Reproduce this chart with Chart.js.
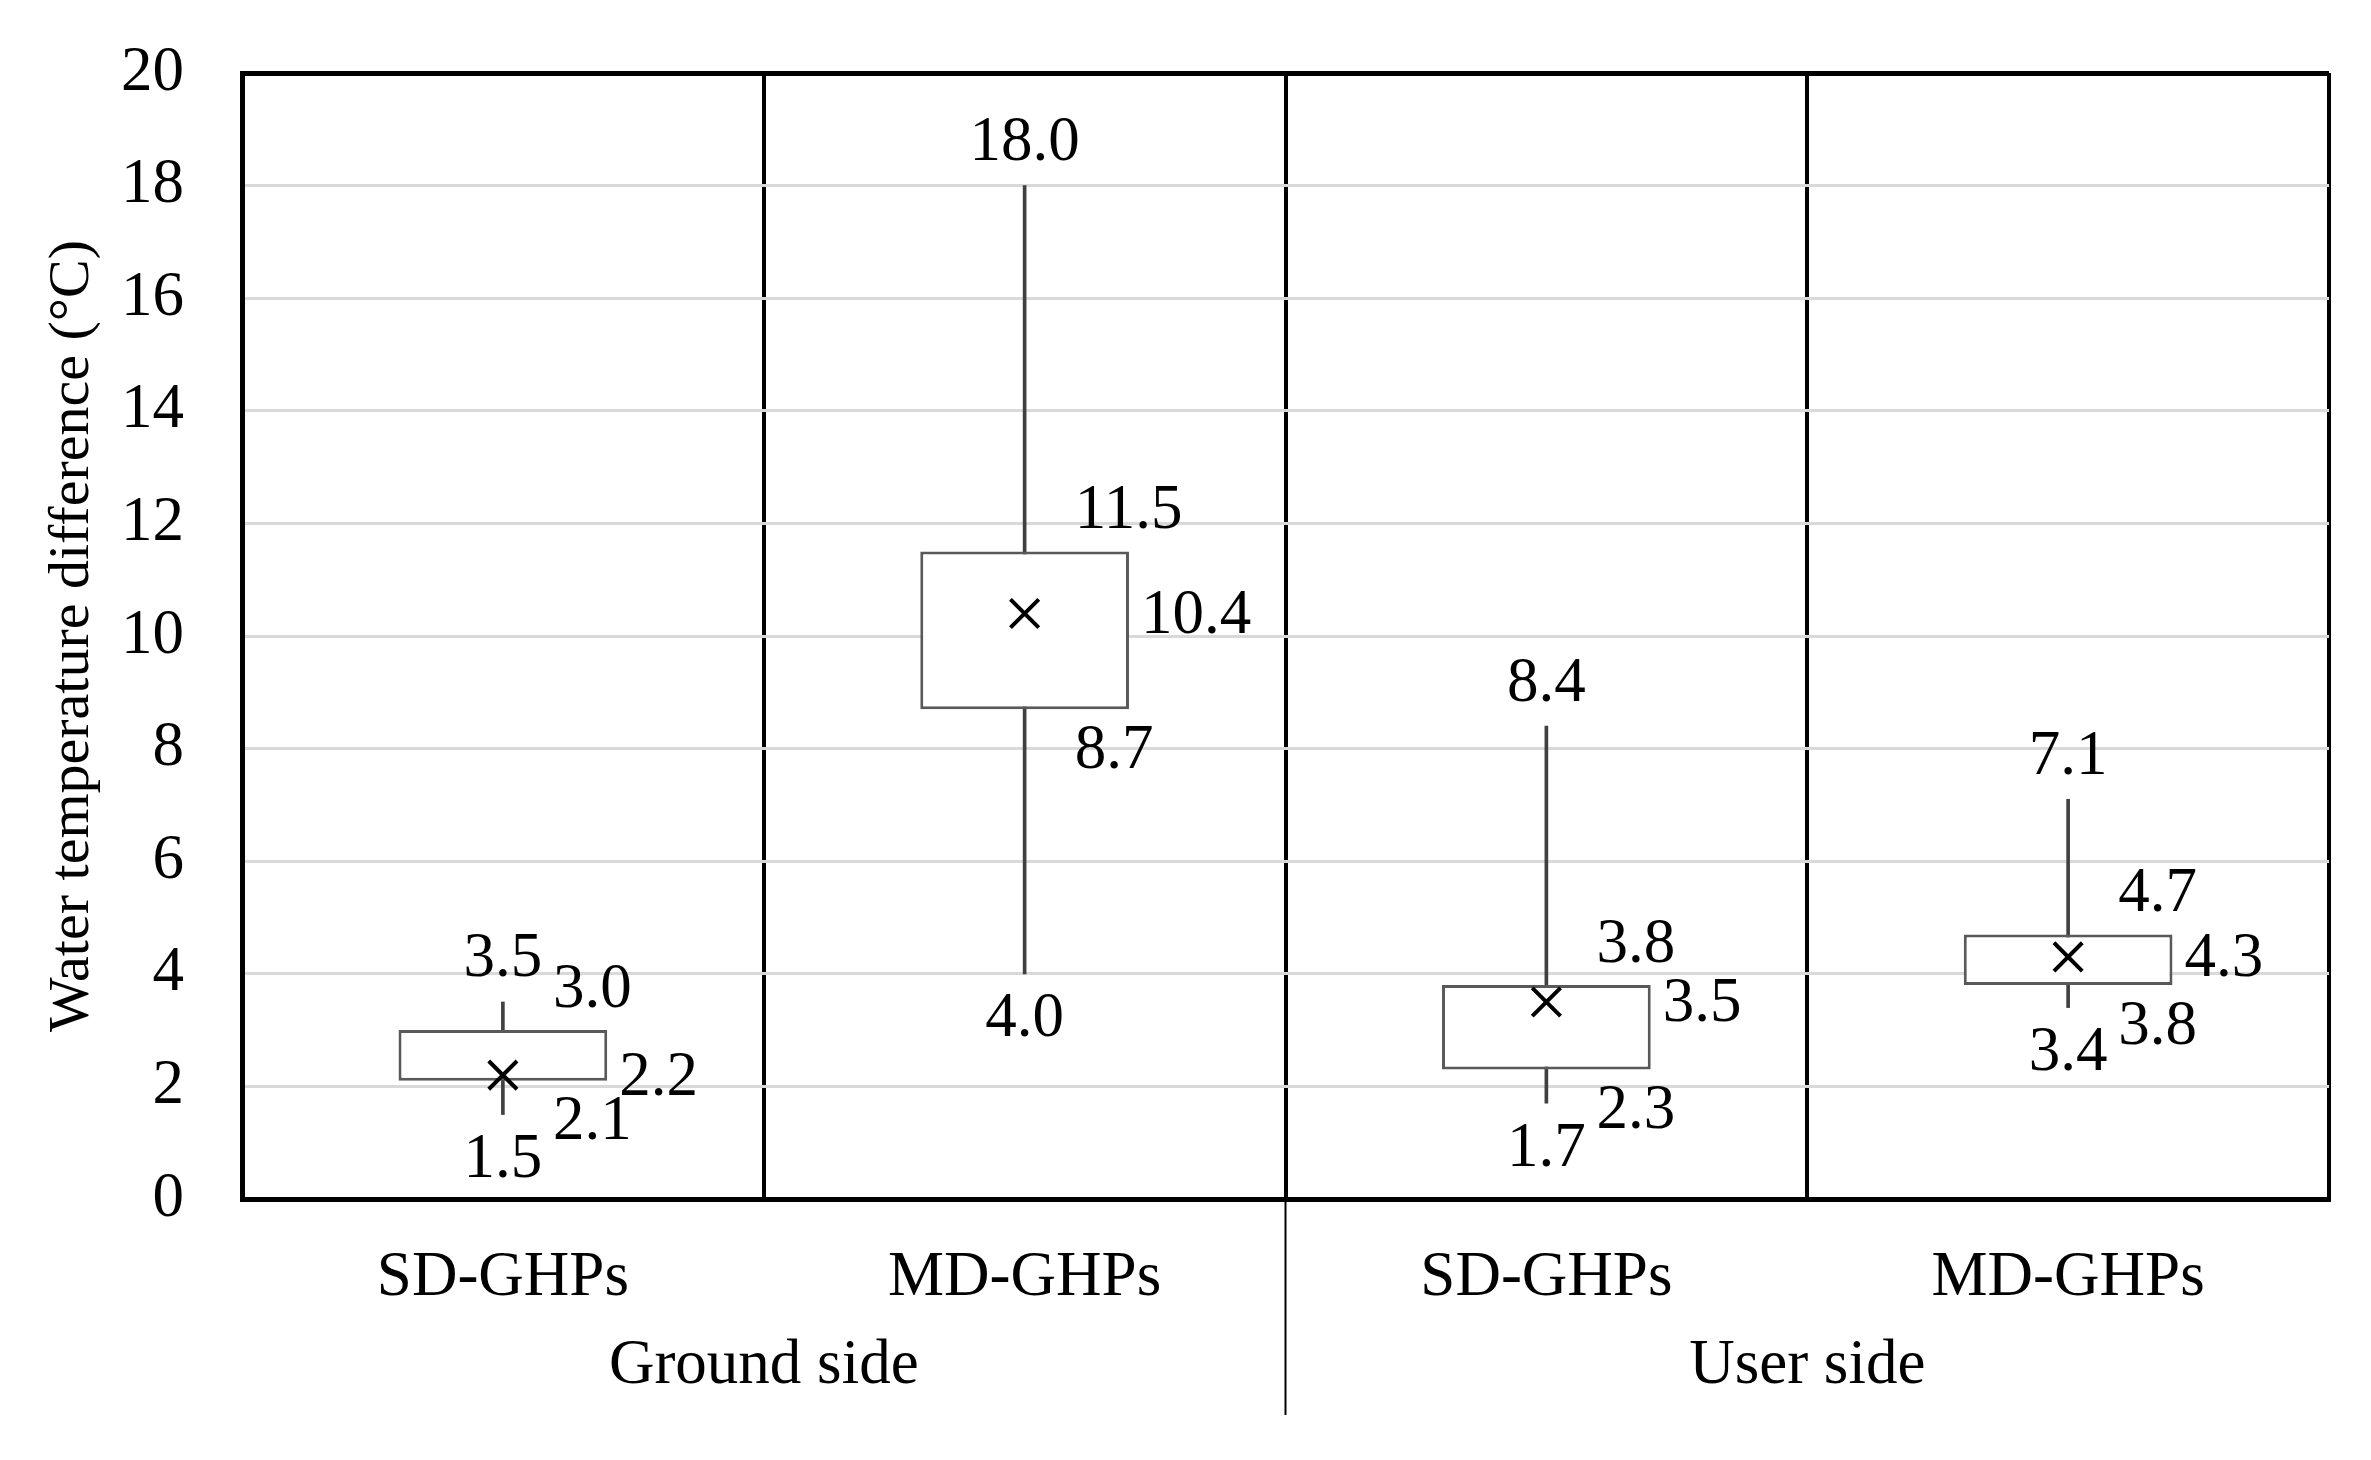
<!DOCTYPE html>
<html>
<head>
<meta charset="utf-8">
<script src="https://cdn.jsdelivr.net/npm/chart.js@4.4.1/dist/chart.umd.min.js"></script>
<style>
  html, body { margin: 0; padding: 0; background: #fff; }
  canvas { display: block; }
</style>
</head>
<body>
<canvas id="grafico" width="2371" height="1460"></canvas>
<script>
// Categorías del eje x y grupos de segundo nivel
const categorias = ['SD-GHPs', 'MD-GHPs', 'SD-GHPs', 'MD-GHPs'];
const grupos = ['Ground side', 'User side'];

// Estadísticos de cada caja
const minimos  = [1.5, 4.0, 1.7, 3.4];
const cuartil1 = [2.1, 8.7, 2.3, 3.8];
const medias   = [2.2, 10.4, 3.5, 4.3];
const cuartil3 = [3.0, 11.5, 3.8, 4.7];
const maximos  = [3.5, 18.0, 8.4, 7.1];

// Marcas del eje y
const ticksY = [0, 2, 4, 6, 8, 10, 12, 14, 16, 18, 20];

const FUENTE = '"Liberation Serif", "Times New Roman", serif';
const fmt = v => v.toFixed(1);

// Etiquetas de datos, grupos y separador
const extras = {
    id: 'extras',
    afterDatasetsDraw(chart) {
        const { ctx, chartArea, scales: { x, y } } = chart;
        const cajas = chart.getDatasetMeta(1).data;
        ctx.save();
        ctx.font = '63px ' + FUENTE;
        ctx.fillStyle = '#000';
        ctx.textBaseline = 'middle';
        categorias.forEach((c, i) => {
            const cx = x.getPixelForValue(i);
            ctx.textAlign = 'center';
            ctx.fillText(fmt(maximos[i]), cx, y.getPixelForValue(maximos[i]) - 42);
            ctx.fillText(fmt(minimos[i]), cx, y.getPixelForValue(minimos[i]) + 46);
            ctx.textAlign = 'left';
            ctx.fillText(fmt(cuartil3[i]), cx + 50, y.getPixelForValue(cuartil3[i]) - 40);
            ctx.fillText(fmt(cuartil1[i]), cx + 50, y.getPixelForValue(cuartil1[i]) + 42);
            const derecha = cajas[i].x + cajas[i].width / 2;
            ctx.fillText(fmt(medias[i]), derecha + 12, y.getPixelForValue(medias[i]) + 3);
        });

        // etiquetas de grupo (segundo nivel del eje x)
        ctx.textAlign = 'center';
        grupos.forEach((g, k) => {
            ctx.fillText(g, x.getPixelForValue(2 * k + 0.5), chartArea.bottom + 167);
        });

        // separador entre grupos, por debajo del eje
        const sx = x.getPixelForValue(1.5);
        ctx.strokeStyle = '#000';
        ctx.lineWidth = 2;
        ctx.beginPath();
        ctx.moveTo(sx, chartArea.bottom);
        ctx.lineTo(sx, chartArea.bottom + 216);
        ctx.stroke();
        ctx.restore();
    }
};

const ctx = document.getElementById('grafico').getContext('2d');
new Chart(ctx, {
    data: {
        labels: categorias,
        datasets: [
            {
                // media (marca ×)
                type: 'line',
                data: medias,
                showLine: false,
                pointStyle: 'crossRot',
                pointRadius: 20,
                pointBorderWidth: 4,
                pointBorderColor: '#000',
                pointBackgroundColor: '#000',
                order: 0
            },
            {
                // caja Q1-Q3
                type: 'bar',
                data: cuartil1.map((q, i) => [q, cuartil3[i]]),
                backgroundColor: '#fff',
                borderColor: '#595959',
                borderWidth: 3,
                borderSkipped: false,
                barPercentage: 0.4,
                categoryPercentage: 1,
                grouped: false,
                order: 1
            },
            {
                // bigotes min-max
                type: 'bar',
                data: minimos.map((m, i) => [m, maximos[i]]),
                backgroundColor: '#404040',
                barThickness: 3,
                grouped: false,
                order: 2
            }
        ]
    },
    options: {
        responsive: false,
        animation: false,
        layout: { padding: { top: 73, right: 42, bottom: 0, left: 0 } },
        plugins: { legend: { display: false }, tooltip: { enabled: false } },
        scales: {
            x: {
                offset: true,
                grid: { offset: true, color: '#000', lineWidth: 4, drawTicks: false },
                border: { color: '#000', width: 5 },
                ticks: {
                    color: '#000',
                    font: { family: FUENTE, size: 63 },
                    padding: 42,
                    maxRotation: 0,
                    autoSkip: false
                },
                afterFit: s => { s.height = 261; }
            },
            y: {
                min: 0,
                max: 20,
                afterBuildTicks: s => { s.ticks = ticksY.map(v => ({ value: v })); },
                grid: {
                    color: c => (c.tick && c.tick.value === 20) ? '#000' : '#d9d9d9',
                    lineWidth: c => (c.tick && c.tick.value === 20) ? 5 : 3,
                    drawTicks: false
                },
                border: { color: '#000', width: 5 },
                ticks: {
                    color: '#000',
                    font: { family: FUENTE, size: 63 },
                    padding: 58
                },
                title: {
                    display: true,
                    text: 'Water temperature difference (°C)',
                    color: '#000',
                    font: { family: FUENTE, size: 58 },
                    padding: { top: 38, bottom: 0 }
                },
                afterFit: s => {
                    s.width = 242;
                    s.paddingTop = 0;
                    s.paddingBottom = 0;
                }
            }
        }
    },
    plugins: [extras]
});
</script>
</body>
</html>
